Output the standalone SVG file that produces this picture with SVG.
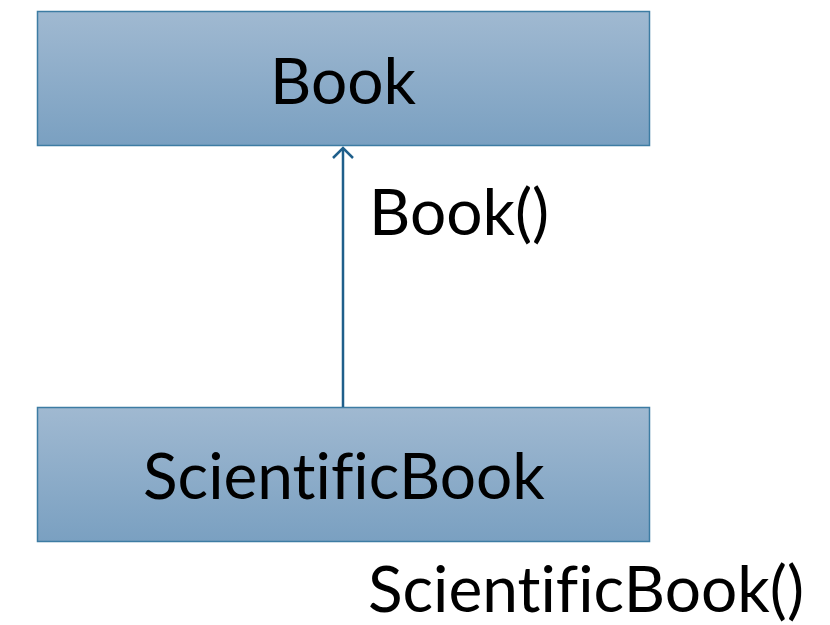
<svg xmlns="http://www.w3.org/2000/svg" width="830" height="625" viewBox="0 0 830 625">
  <style>
    .box { fill: url(#boxFill); stroke: #3d7ca3; stroke-width: 1.5; }
    .label { font-family: Lato, "Liberation Sans", sans-serif; font-size: 64px; fill: #000; font-variant-ligatures: none; font-feature-settings: "liga" 0; }
    .conn { stroke: #1f5f8b; stroke-width: 2.5; fill: none; }
  </style>
  <defs>
    <linearGradient id="boxFill" x1="0" y1="0" x2="0" y2="1">
      <stop offset="0" stop-color="#a0b9d1"/>
      <stop offset="1" stop-color="#7aa0c1"/>
    </linearGradient>
    <marker id="openArrow" viewBox="0 0 24 24" refX="12" refY="12" markerWidth="24" markerHeight="24" markerUnits="userSpaceOnUse" orient="auto">
      <path d="M2 2 L12 12 L2 22" fill="none" stroke="#1f5f8b" stroke-width="2.5"/>
    </marker>
  </defs>

  <g id="book">
    <rect class="box" x="37.5" y="11.5" width="612" height="134"/>
    <text class="label" x="343" y="104" text-anchor="middle">Book</text>
  </g>

  <g id="scientificBook">
    <rect class="box" x="37.5" y="407.5" width="612" height="134"/>
    <text class="label" x="344" y="499" text-anchor="middle">ScientificBook</text>
  </g>

  <g id="connectors">
    <line class="conn" x1="343" y1="407" x2="343" y2="148" marker-end="url(#openArrow)"/>
    <text class="label" x="369" y="235">Book()</text>
    <text class="label" x="368" y="612">ScientificBook()</text>
  </g>
</svg>
